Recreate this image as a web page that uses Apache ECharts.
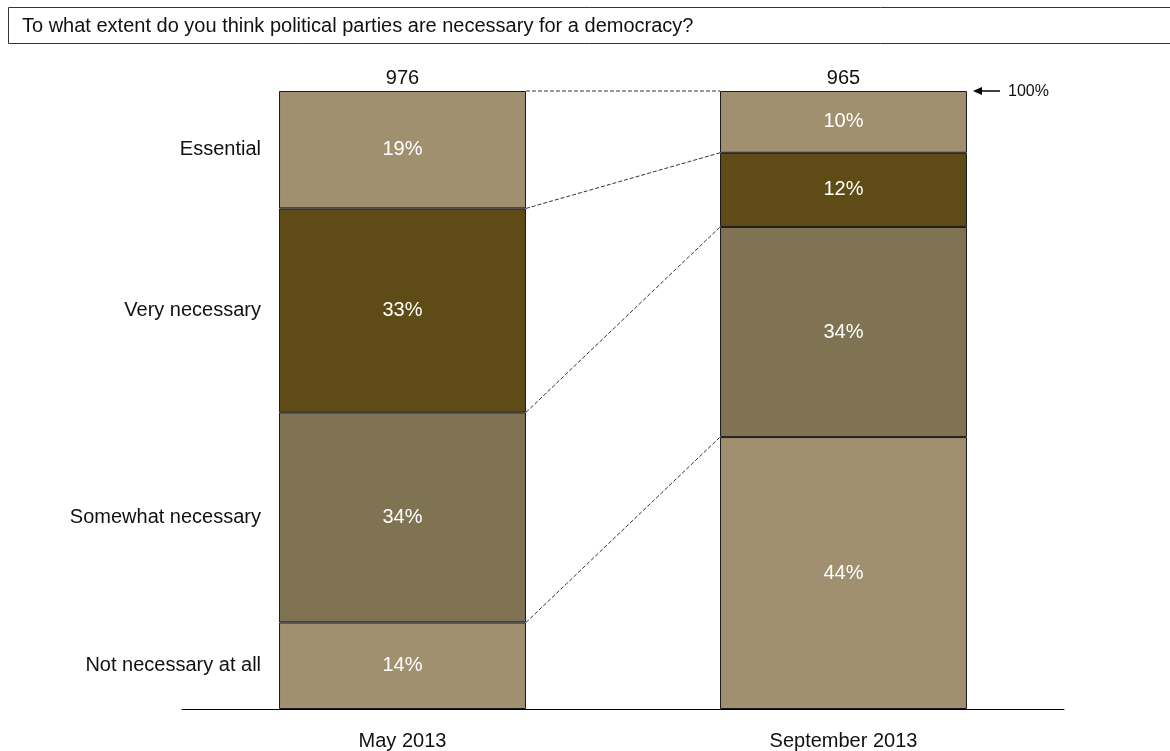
<!DOCTYPE html>
<html>
<head>
<meta charset="utf-8">
<script src="https://cdn.jsdelivr.net/npm/echarts@6/dist/echarts.min.js"></script>
<style>
  html, body { margin: 0; padding: 0; background: #fff; }
  #chart { width: 1170px; height: 751px; }
</style>
</head>
<body>
<div id="chart"></div>
<script>
// Survey question and answers, stacked bottom to top
const question = 'To what extent do you think political parties are necessary for a democracy?';
const periods = ['May 2013', 'September 2013'];
const sampleSizes = ['976', '965'];
const responses = ['Not necessary at all', 'Somewhat necessary', 'Very necessary', 'Essential'];
const notNecessary = [14, 44];
const somewhatNecessary = [34, 34];
const veryNecessary = [33, 12];
const essential = [19, 10];
const totalMarker = 100;

const FONT = '"Liberation Sans", Arial, sans-serif';
const colors = ['#A09070', '#7F7354', '#5E4B15', '#A09070'];
const stackValues = [notNecessary, somewhatNecessary, veryNecessary, essential];
const BAR_RATIO = 0.56;

// running top of each response segment, per period
const cumulative = stackValues.map((_, i) =>
  periods.map((p, j) => stackValues.slice(0, i + 1).reduce((s, arr) => s + arr[j], 0))
);

function barWidthPx(api) {
  return api.size([1, 0])[0] * BAR_RATIO;
}

const barSeries = stackValues.map((vals, i) => ({
  type: 'bar',
  name: responses[i],
  stack: 'total',
  barWidth: (BAR_RATIO * 100) + '%',
  data: vals,
  silent: true,
  itemStyle: { color: colors[i], borderColor: '#1a1a1a', borderWidth: 1 },
  label: {
    show: true,
    position: 'inside',
    formatter: '{c}%',
    color: '#ffffff',
    fontSize: 20,
    fontFamily: FONT
  }
}));

// dashed lines joining matching segment boundaries of the two bars
const connectorSeries = {
  type: 'custom',
  silent: true,
  z: 1,
  data: cumulative.map(c => [0, c[0], c[1]]),
  encode: { x: 0, y: [1, 2] },
  renderItem: function (params, api) {
    const bw = barWidthPx(api);
    const p1 = api.coord([0, api.value(1)]);
    const p2 = api.coord([1, api.value(2)]);
    return {
      type: 'line',
      shape: { x1: p1[0] + bw / 2, y1: p1[1], x2: p2[0] - bw / 2, y2: p2[1] },
      style: { stroke: '#333', lineWidth: 1, lineDash: [4, 2] }
    };
  }
};

// response names to the left of the first bar, centred on each segment
const rowLabelSeries = {
  type: 'custom',
  silent: true,
  data: cumulative.map((c, i) => [0, c[0] - stackValues[i][0] / 2]),
  encode: { x: 0, y: 1 },
  renderItem: function (params, api) {
    const bw = barWidthPx(api);
    const p = api.coord([0, api.value(1)]);
    return {
      type: 'text',
      x: p[0] - bw / 2 - 18,
      y: p[1],
      style: {
        text: responses[params.dataIndex],
        align: 'right',
        verticalAlign: 'middle',
        fill: '#111',
        fontSize: 20,
        fontFamily: FONT
      }
    };
  }
};

// arrow pointing at the top of the second bar
const totalMarkerSeries = {
  type: 'custom',
  silent: true,
  data: [[1, totalMarker]],
  encode: { x: 0, y: 1 },
  renderItem: function (params, api) {
    const bw = barWidthPx(api);
    const p = api.coord([1, api.value(1)]);
    const x0 = p[0] + bw / 2;
    const y = p[1];
    return {
      type: 'group',
      children: [
        { type: 'line', shape: { x1: x0 + 12, y1: y, x2: x0 + 33, y2: y },
          style: { stroke: '#000', lineWidth: 1.5 } },
        { type: 'polygon', shape: { points: [[x0 + 6, y], [x0 + 15, y - 4], [x0 + 15, y + 4]] },
          style: { fill: '#000' } },
        { type: 'text', x: x0 + 41, y: y + 1,
          style: { text: totalMarker + '%', align: 'left', verticalAlign: 'middle',
                   fill: '#111', fontSize: 16, fontFamily: FONT } }
      ]
    };
  }
};

const chart = echarts.init(document.getElementById('chart'), null, { renderer: 'canvas' });
chart.setOption({
  animation: false,
  backgroundColor: '#fff',
  textStyle: { fontFamily: FONT },
  grid: { left: 182, right: 106, top: 91, bottom: 42, containLabel: false },
  xAxis: [
    {
      type: 'category',
      data: periods,
      axisLine: { show: true, lineStyle: { color: '#000', width: 1 } },
      axisTick: { show: false },
      axisLabel: { fontSize: 20, color: '#111', margin: 22, fontFamily: FONT }
    },
    {
      type: 'category',
      position: 'top',
      data: sampleSizes,
      axisLine: { show: false },
      axisTick: { show: false },
      axisLabel: { fontSize: 20, color: '#111', margin: 3, fontFamily: FONT }
    }
  ],
  yAxis: { type: 'value', min: 0, max: 100, show: false },
  graphic: [
    {
      type: 'rect',
      shape: { x: 8.5, y: 7.5, width: 1200, height: 36 },
      style: { fill: '#fff', stroke: '#333', lineWidth: 1 },
      z: 0
    },
    {
      type: 'text',
      x: 22,
      y: 26,
      style: { text: question, fill: '#111', fontSize: 20, fontFamily: FONT, verticalAlign: 'middle' },
      z: 1
    }
  ],
  series: [connectorSeries].concat(barSeries, [rowLabelSeries, totalMarkerSeries])
});
</script>
</body>
</html>
